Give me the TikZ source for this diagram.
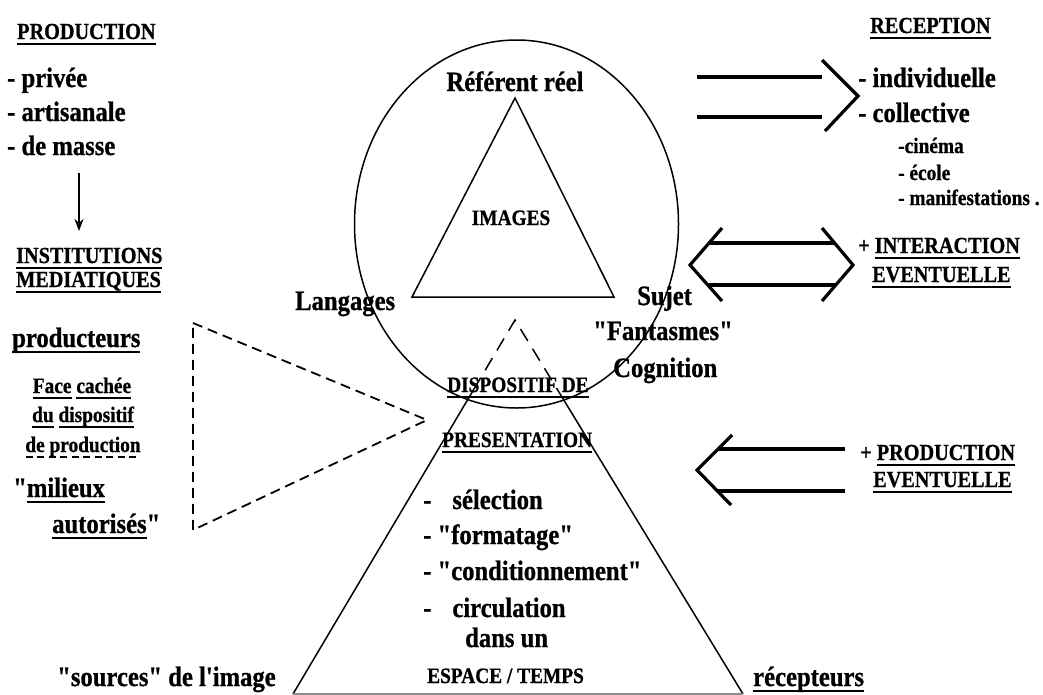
\documentclass[tikz,border=0pt]{standalone}
\usepackage{fontspec}
% Liberation Serif loaded as the "mono" family so that no TeX mapping turns " into curly quotes
\setmonofont{Liberation Serif}[FakeStretch=0.88, BoldFeatures={FakeBold=0.8}]
\usetikzlibrary{arrows.meta}
\newsavebox\ulbox
\newcommand\uln[1]{\sbox\ulbox{#1}\rlap{\rule[-5.5pt]{\wd\ulbox}{1.8pt}}\usebox\ulbox}
\newcommand\duln[1]{\sbox\ulbox{#1}\rlap{\hbox to \wd\ulbox{\xleaders\hbox{\rule[-5.5pt]{7pt}{1.6pt}\hskip 4pt}\hfill}}\usebox\ulbox}
\begin{document}
\begin{tikzpicture}[x=1pt,y=-1pt,
  big/.style={font=\ttfamily\bfseries\fontsize{28}{30}\selectfont, inner sep=0pt, anchor=base west},
  hdr/.style={font=\ttfamily\bfseries\fontsize{23}{25}\selectfont, inner sep=0pt, anchor=base west},
  sml/.style={font=\ttfamily\bfseries\fontsize{22}{24}\selectfont, inner sep=0pt, anchor=base west},
  shp/.style={line width=1.5pt, line join=miter},
  dshp/.style={line width=1.8pt, dash pattern=on 10pt off 6pt},
  chev/.style={line width=3.2pt, line join=miter},
  downarrow/.style={line width=2.2pt, -{Stealth[length=12pt,width=9pt]}}
]
\useasboundingbox (0,0) rectangle (1043,694);
\fill[white] (0,0) rectangle (1043,694);

% ---------- left column ----------
\node[hdr] (production) at (17,39) {\uln{PRODUCTION}};
\node[big] (privee) at (7,87) {- privée};
\node[big] (artisanale) at (7,121) {- artisanale};
\node[big] (masse) at (7,155) {- de masse};
\coordinate (arrS) at (79,173);
\coordinate (arrE) at (79,231);
\draw[downarrow] (arrS) -- (arrE);
\node[hdr] (inst) at (16,263) {\uln{INSTITUTIONS}};
\node[hdr] (medi) at (16,287) {\uln{MEDIATIQUES}};
\node[big] (prod) at (12,347) {\uln{producteurs}};
\node[sml, anchor=base] (face) at (82,393) {\uln{Face} \uln{cachée}};
\node[sml, anchor=base] (dudisp) at (83,422) {\uln{du} \uln{dispositif}};
\node[sml, anchor=base] (deprod) at (83,452) {\duln{de production}};
\node[big] (milieux) at (13,497) {"\uln{milieux}};
\node[big] (autorises) at (52,533) {\uln{autorisés}"};
\node[big] (sources) at (57,686) {"sources" de l'image};

% dashed triangle
\coordinate (dA) at (193,323);
\coordinate (dB) at (193,530);
\coordinate (dC) at (427,420);
\draw[dshp] (dA) -- (dC) -- (dB) -- cycle;

% ---------- centre ----------
\draw[shp] (516.5,224) ellipse [x radius=162pt, y radius=184pt];
\coordinate (tA) at (515,98);
\coordinate (tB) at (412,297);
\coordinate (tC) at (614,297);
\draw[shp] (tA) -- (tB) -- (tC) -- cycle;
\node[big, anchor=base] (referent) at (515,91) {Référent réel};
\node[sml, anchor=base] (images) at (511,225) {IMAGES};
\node[big] (langages) at (295,310) {Langages};
\node[big] (sujet) at (637,305) {Sujet};
\node[big] (fantasmes) at (593,340) {"Fantasmes"};
\node[big] (cognition) at (613,377) {Cognition};

% big triangle
\coordinate (pA) at (515,320);
\coordinate (pL) at (473.4,390);
\coordinate (pR) at (557.7,390);
\coordinate (pBL) at (293,694);
\coordinate (pBR) at (743,694);
\draw[shp, dash pattern=on 14pt off 9pt] (pL) -- (pA) -- (pR);
\draw[shp] (pL) -- (pBL);
\draw[shp] (pR) -- (pBR);
\draw[line width=1.5pt, black!45] (pBL) -- (pBR);

\node[sml] (dispositif) at (447,392) {\uln{DISPOSITIF DE}};
\node[sml] (presentation) at (442,447) {\uln{PRESENTATION}};
\node[big] (selection) at (423,509) {-\hspace{21pt}sélection};
\node[big] (formatage) at (423,544) {- "formatage"};
\node[big] (condition) at (423,580) {- "conditionnement"};
\node[big] (circulation) at (423,617) {-\hspace{21pt}circulation};
\node[big] (dansun) at (465,647) {dans un};
\node[sml] (espace) at (427,683) {ESPACE / TEMPS};

% ---------- right column ----------
\node[hdr] (reception) at (870,33) {\uln{RECEPTION}};
\node[big] (indiv) at (858,87) {- individuelle};
\node[big] (coll) at (858,122) {- collective};
\node[sml] (cinema) at (898,153) {-cinéma};
\node[sml] (ecole) at (898,180) {- école};
\node[sml] (manif) at (898,205) {- manifestations .};

% reception arrow
\coordinate (r1a) at (697,77);  \coordinate (r1b) at (822,77);
\coordinate (r2a) at (697,117); \coordinate (r2b) at (822,117);
\coordinate (rc1) at (822,60); \coordinate (rc2) at (858,96); \coordinate (rc3) at (825,131);
\draw[chev] (r1a) -- (r1b);
\draw[chev] (r2a) -- (r2b);
\draw[chev] (rc1) -- (rc2) -- (rc3);

% interaction double arrow
\coordinate (i1a) at (709,243); \coordinate (i1b) at (835,243);
\coordinate (i2a) at (709,285); \coordinate (i2b) at (835,285);
\coordinate (il1) at (722,228); \coordinate (il2) at (690,265); \coordinate (il3) at (722,301);
\coordinate (ir1) at (822,228); \coordinate (ir2) at (853,265); \coordinate (ir3) at (822,301);
\draw[chev] (i1a) -- (i1b);
\draw[chev] (i2a) -- (i2b);
\draw[chev] (il1) -- (il2) -- (il3);
\draw[chev] (ir1) -- (ir2) -- (ir3);
\node[hdr] (interaction) at (858,253) {+ \uln{INTERACTION}};
\node[hdr] (event1) at (872,282) {\uln{EVENTUELLE}};

% production arrow
\coordinate (p1a) at (718,449); \coordinate (p1b) at (845,449);
\coordinate (p2a) at (718,491); \coordinate (p2b) at (845,491);
\coordinate (pc1) at (732,435); \coordinate (pc2) at (697,470); \coordinate (pc3) at (731,505);
\draw[chev] (p1a) -- (p1b);
\draw[chev] (p2a) -- (p2b);
\draw[chev] (pc1) -- (pc2) -- (pc3);
\node[hdr] (prodev) at (860,460) {+ \uln{PRODUCTION}};
\node[hdr] (event2) at (873,487) {\uln{EVENTUELLE}};

\node[big] (recepteurs) at (753,686) {\uln{récepteurs}};
\end{tikzpicture}
\end{document}
